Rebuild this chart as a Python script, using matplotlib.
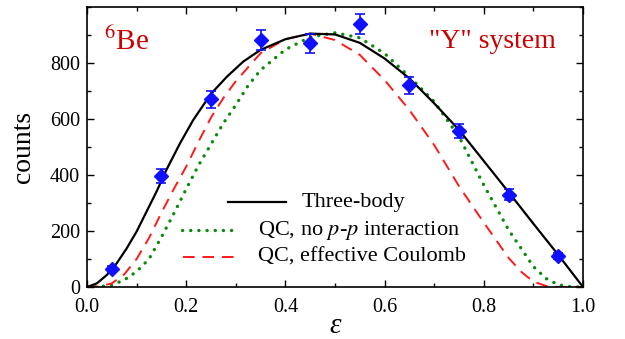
import matplotlib
matplotlib.use("Agg")
import matplotlib.pyplot as plt
from matplotlib.ticker import MultipleLocator
from matplotlib.lines import Line2D

plt.rcParams['font.family'] = ['Liberation Serif', 'DejaVu Serif']
plt.rcParams['mathtext.fontset'] = 'stix'

# Experimental data
eps_data = [0.05, 0.15, 0.25, 0.35, 0.45, 0.55, 0.65, 0.75, 0.85, 0.95]
counts_data = [64, 396, 671, 882, 870, 939, 720, 557, 329, 111]
counts_err = [12, 25, 30, 35, 35, 35, 30, 25, 20, 12]

# Three-body curve
eps_3b = [0, 0.02, 0.04, 0.06, 0.08, 0.1, 0.12, 0.14, 0.16, 0.1875, 0.214, 0.25, 0.282,
          0.315, 0.35, 0.4, 0.45, 0.5, 0.55, 0.6, 0.65, 0.7, 0.75, 0.8, 0.85, 0.9, 0.95, 1.0]
cnt_3b = [0, 13, 43, 85, 138, 198, 269, 340, 418, 513, 596, 690, 751,
          805, 847, 885, 905, 902, 872, 816, 745, 656, 561, 450, 339, 226, 115, 0]

# QC, no p-p interaction
eps_qc = [0, 0.025, 0.05, 0.075, 0.1, 0.125, 0.15, 0.175, 0.2, 0.225, 0.25, 0.275, 0.3,
          0.325, 0.35, 0.4, 0.45, 0.5, 0.55, 0.6, 0.65, 0.7, 0.75, 0.8, 0.85, 0.9,
          0.925, 0.95, 0.975, 1.0]
cnt_qc = [0, 1, 7, 25, 55, 100, 178, 262, 350, 435, 510, 585, 650,
          720, 775, 848, 893, 908, 890, 834, 751, 662, 537, 364, 204, 73,
          31, 8, 1, 0]

# QC, effective Coulomb
eps_cb = [0, 0.025, 0.05, 0.075, 0.1, 0.125, 0.15, 0.175, 0.2, 0.225, 0.25, 0.275, 0.3,
          0.35, 0.4, 0.45, 0.5, 0.55, 0.6, 0.65, 0.7, 0.75, 0.8, 0.85, 0.875, 0.9,
          0.925, 0.95, 1.0]
cnt_cb = [0, 2, 13, 45, 100, 175, 265, 350, 430, 520, 605, 675, 735,
          835, 885, 905, 882, 829, 739, 632, 507, 360, 230, 104, 55, 19,
          4, 0, 0]

xticks = [0.0, 0.2, 0.4, 0.6, 0.8, 1.0]
xticklabels = ['0.0', '0.2', '0.4', '0.6', '0.8', '1.0']
yticks = [0, 200, 400, 600, 800]
legend_labels = ['Three-body', 'QC, no $p$-$p$ interaction', 'QC, effective Coulomb']

W, H = 625, 339
fig = plt.figure(figsize=(W / 100, H / 100), dpi=100)
ax = fig.add_axes([87 / W, 1 - 287 / H, 496 / W, 280 / H])

ax.plot(eps_3b, cnt_3b, color='black', lw=1.6, zorder=3)
ax.plot(eps_qc, cnt_qc, color='#0a8a0a', lw=2.4, linestyle=(0, (0.05, 2.4)),
        dash_capstyle='round', zorder=2)
ax.plot(eps_cb, cnt_cb, color='#ff1a1a', lw=1.4, linestyle=(0, (6, 4)), zorder=2)

ax.errorbar(eps_data, counts_data, yerr=counts_err, fmt='D', color='#1010ff',
            ms=7.2, capsize=3.5, elinewidth=1.2, capthick=1.2, zorder=4)

ax.set_xlim(0, 1.0)
ax.set_ylim(0, 1000)
ax.set_xticks(xticks)
ax.set_xticklabels(xticklabels)
ax.set_yticks(yticks)
ax.xaxis.set_minor_locator(MultipleLocator(0.1))
ax.yaxis.set_minor_locator(MultipleLocator(100))
ax.tick_params(which='both', direction='in', top=True, right=True, labelsize=14.5, width=1)
ax.tick_params(axis='x', which='major', pad=8)
ax.tick_params(axis='y', which='major', pad=5)
ax.tick_params(which='major', length=5)
ax.tick_params(which='minor', length=3)
for s in ax.spines.values():
    s.set_linewidth(1.2)

ax.set_ylabel('counts', fontsize=20, labelpad=10)

def px(x, y):
    return x / W, 1 - y / H

# x-axis label (italic epsilon), centred under the axes
ex, ey = px(335, 326)
fig.text(ex, ey, '\u03b5', fontsize=21, style='italic', ha='center', va='center')

ax.text(0.035, 0.875, '$^{6}$Be', transform=ax.transAxes, color='#cc0000',
        fontsize=21, va='center', ha='left')
ax.text(0.945, 0.875, '"Y" system', transform=ax.transAxes, color='#cc0000',
        fontsize=20, va='center', ha='right')

# Legend (centred block, as in the original)
rows = [
    dict(x0=228, x1=286, y=202, tx=302, kw=dict(color='black', lw=1.6)),
    dict(x0=182, x1=239, y=230, tx=258, kw=dict(color='#0a8a0a', lw=2.4,
                                                 linestyle=(0, (0.05, 2.4)),
                                                 dash_capstyle='round')),
    dict(x0=183, x1=240, y=257, tx=258, kw=dict(color='#ff1a1a', lw=1.4,
                                                 linestyle=(0, (6, 4)))),
]
for r, lab in zip(rows, legend_labels):
    xa, ya = px(r['x0'], r['y'])
    xb, yb = px(r['x1'], r['y'])
    fig.add_artist(Line2D([xa, xb], [ya, yb], transform=fig.transFigure, **r['kw']))
    tx, ty = px(r['tx'], r['y'])
    fig.text(tx, ty, lab, fontsize=16, va='center', ha='left')

fig.savefig('out.png', dpi=100)
